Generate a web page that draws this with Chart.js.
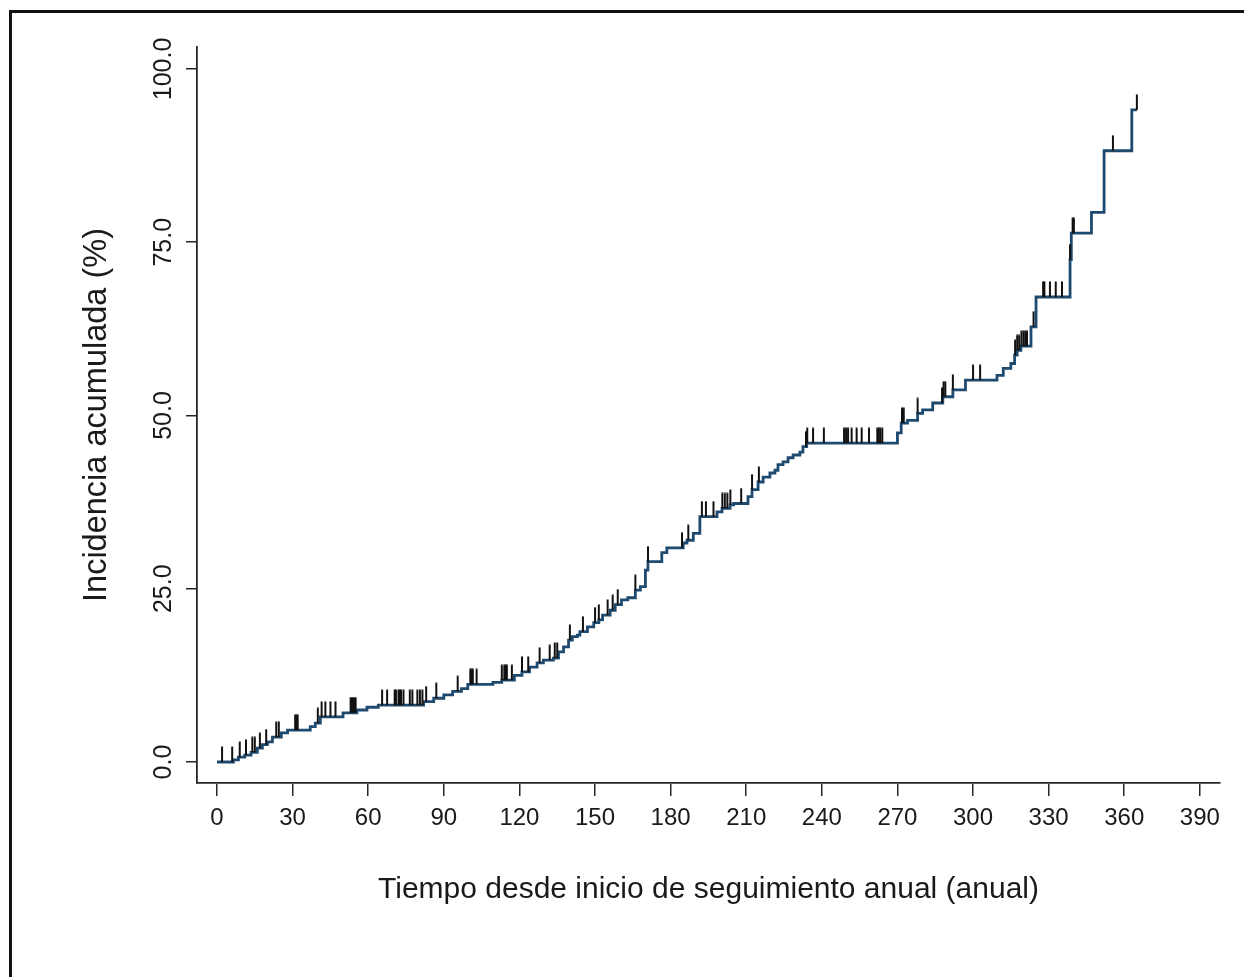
<!DOCTYPE html>
<html lang="es">
<head>
<meta charset="utf-8">
<title>Incidencia acumulada</title>
<script src="https://cdn.jsdelivr.net/npm/chart.js@4.4.1/dist/chart.umd.min.js"></script>
<style>
  html, body { margin: 0; padding: 0; background: #ffffff; }
  #wrap { position: relative; width: 1244px; height: 977px; overflow: hidden; }
  #grafico { position: absolute; left: 0; top: 0; }
  #marco { position: absolute; left: 9px; top: 10px; width: 1260px; height: 1000px;
           border-left: 3px solid #111; border-top: 3px solid #111; pointer-events: none; }
</style>
</head>
<body>
<div id="wrap">
  <canvas id="grafico" width="1244" height="977"></canvas>
  <div id="marco"></div>
</div>
<script>
// Tiempos de evento (días) e incidencia acumulada (%) tras cada evento
const diasEvento = [
  0, 6.5, 8.5, 11, 13.5, 16, 18, 20, 22, 25.5, 28, 37, 39, 41, 50, 55.5, 59.5, 64,
  82, 86, 90, 93.5, 97, 99.5, 109.5, 113, 118, 121, 124, 127, 129.5, 133.5, 135.5,
  137.5, 139.5, 141, 143, 144, 147, 149.5, 151.5, 153, 156, 158, 160.5, 163, 166,
  168, 170, 171, 176.5, 178.5, 185, 186.5, 189, 191.6, 198.4, 200.4, 203.6, 205,
  210.7, 212.3, 214.7, 216.7, 219.4, 221.4, 222.6, 224.6, 226.6, 228.6, 231.3,
  232.5, 234, 270, 271.5, 274, 278, 280, 284, 288, 292, 297, 309.5, 312, 315,
  316.5, 317.5, 319, 323, 325, 338.5, 339, 347, 352, 363, 365
];
const incidenciaAcum = [
  0, 0.3, 0.7, 1.0, 1.4, 2.0, 2.5, 2.9, 3.6, 4.2, 4.6, 5.1, 5.6, 6.5, 7.1, 7.5, 7.9, 8.2,
  8.7, 9.2, 9.7, 10.2, 10.6, 11.2, 11.5, 11.8, 12.5, 13.0, 13.7, 14.3, 14.7, 15.0, 15.9,
  16.6, 17.6, 18.1, 18.3, 18.8, 19.5, 20.1, 20.5, 21.2, 21.9, 22.7, 23.4, 23.7, 24.8,
  25.3, 27.7, 28.9, 30.2, 30.9, 31.6, 32.0, 33.0, 35.4, 36.1, 36.6, 37.1, 37.3,
  38.3, 39.3, 40.4, 41.1, 41.7, 42.1, 42.9, 43.3, 43.9, 44.3, 44.7,
  45.5, 46.0, 47.5, 48.9, 49.3, 50.3, 50.8, 51.8, 52.7, 53.7, 55.1, 55.8, 56.8, 57.5,
  58.7, 59.4, 60.0, 62.8, 67.1, 72.5, 76.3, 79.3, 88.2, 94.1, 94.1
];
// Tiempos de censura (días)
const diasCensura = [
  2, 6, 9, 11.5, 14, 15, 17, 19.5, 23.5, 24.5, 31, 31.5, 32, 40, 41.5, 43, 45, 47,
  53, 53.5, 54, 54.5, 55, 65.5, 67.5, 70.5, 71, 72, 72.5, 73, 74, 76.5, 77.5, 79.5,
  80.5, 81.5, 83, 87, 95.5, 100.5, 101, 101.5, 103, 113, 114, 114.5, 115, 117, 121,
  123.5, 128, 132, 134, 135, 140, 145.2, 150, 151.5, 155, 157, 159, 166, 171, 184.5,
  187, 192.4, 194, 197, 200.5, 201.5, 202.5, 203.7, 208, 212.3, 215, 233.7, 234.2,
  236.5, 240.8, 248.8, 249.6, 250.4, 251.8, 253.8, 255.8, 258.7, 262, 262.6, 263.2,
  264, 271.8, 272.5, 278, 287.7, 288.3, 289, 292, 300, 302.8, 316.7, 317.5, 318.3,
  319.2, 320, 320.7, 321.4, 324, 327.8, 328.3, 330.5, 332.8, 335.3, 338.5, 339.5,
  340, 355.5, 365
];
// Marcas de los ejes
const ticksX = [0, 30, 60, 90, 120, 150, 180, 210, 240, 270, 300, 330, 360, 390];
const ticksY = [0, 25, 50, 75, 100];

const tituloX = 'Tiempo desde inicio de seguimiento anual (anual)';
const tituloY = 'Incidencia acumulada (%)';

const FUENTE = '"Liberation Sans", Arial, Helvetica, sans-serif';
const TEXTO = '#1a1a1a';
const EJE = '#262626';

// Nivel de la curva escalonada en un tiempo dado
function nivelEn(t) {
  let v = 0;
  for (let i = 0; i < diasEvento.length; i++) {
    if (diasEvento[i] <= t) v = incidenciaAcum[i];
  }
  return v;
}

const puntosCurva = diasEvento.map((d, i) => ({ x: d, y: incidenciaAcum[i] }));
const puntosCensura = diasCensura.map(d => ({ x: d, y: nivelEn(d) }));

// Marca de censura: trazo vertical que sube desde la curva
function marcaCensura() {
  const c = document.createElement('canvas');
  c.width = 4; c.height = 32;
  const g = c.getContext('2d');
  g.strokeStyle = '#111111';
  g.lineWidth = 2;
  g.beginPath();
  g.moveTo(2, 0.5);
  g.lineTo(2, 16);
  g.stroke();
  return c;
}

// Etiquetas verticales del eje Y
const etiquetasY = {
  id: 'etiquetasY',
  afterDraw(chart) {
    const esc = chart.scales.y;
    const ctx = chart.ctx;
    ctx.save();
    ctx.fillStyle = TEXTO;
    ctx.font = '25px ' + FUENTE;
    ctx.textAlign = 'center';
    ctx.textBaseline = 'alphabetic';
    ticksY.forEach(v => {
      const py = esc.getPixelForValue(v);
      ctx.save();
      ctx.translate(171, py);
      ctx.rotate(-Math.PI / 2);
      ctx.fillText(v.toFixed(1), 0, 0);
      ctx.restore();
    });
    ctx.restore();
  }
};

new Chart(document.getElementById('grafico'), {
  type: 'line',
  data: {
    datasets: [
      {
        label: 'Censura',
        type: 'scatter',
        data: puntosCensura,
        pointStyle: marcaCensura(),
        pointRadius: 8,
        pointHoverRadius: 8,
        showLine: false,
        order: 0
      },
      {
        label: 'Incidencia',
        data: puntosCurva,
        stepped: 'before',
        borderColor: '#1f4a70',
        borderWidth: 2.8,
        pointRadius: 0,
        fill: false,
        order: 1
      }
    ]
  },
  options: {
    responsive: false,
    animation: false,
    events: [],
    layout: { padding: { left: 0, top: 47, right: 24, bottom: 0 } },
    plugins: { legend: { display: false }, tooltip: { enabled: false } },
    scales: {
      x: {
        type: 'linear',
        min: -7.94,
        max: 398.0,
        afterBuildTicks(s) { s.ticks = ticksX.map(v => ({ value: v })); },
        afterFit(s) { s.height = 194; },
        ticks: {
          color: TEXTO,
          font: { family: FUENTE, size: 24 },
          padding: 8,
          maxRotation: 0,
          autoSkip: false
        },
        grid: { drawOnChartArea: false, drawTicks: true, tickLength: 13, color: EJE, lineWidth: 1.5 },
        border: { display: true, color: EJE, width: 1.8 },
        title: {
          display: true,
          text: tituloX,
          color: TEXTO,
          font: { family: FUENTE, size: 30 },
          padding: { top: 0, bottom: 69 }
        }
      },
      y: {
        type: 'linear',
        min: -3.03,
        max: 103.17,
        afterBuildTicks(s) { s.ticks = ticksY.map(v => ({ value: v })); },
        afterFit(s) { s.width = 197; },
        ticks: { display: false },
        grid: { drawOnChartArea: false, drawTicks: true, tickLength: 11, color: EJE, lineWidth: 1.5 },
        border: { display: true, color: EJE, width: 1.8 },
        title: {
          display: true,
          text: tituloY,
          color: TEXTO,
          font: { family: FUENTE, size: 32.5 },
          padding: { top: 77.5, bottom: 0 }
        }
      }
    }
  },
  plugins: [etiquetasY]
});
</script>
</body>
</html>
